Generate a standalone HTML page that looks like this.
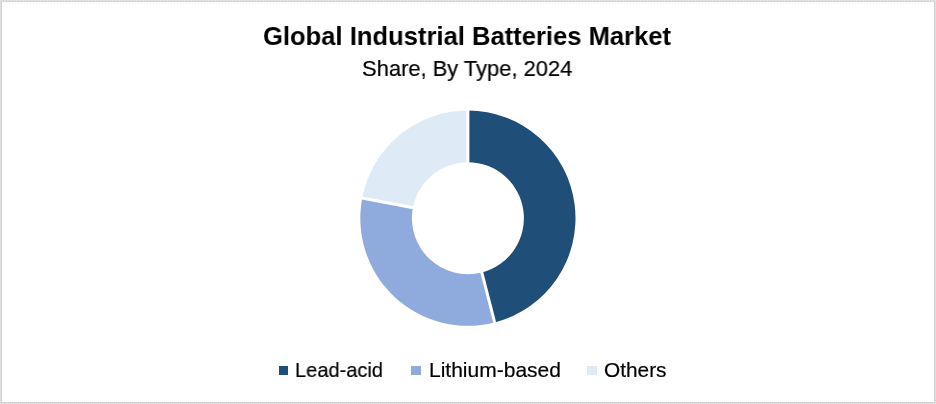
<!DOCTYPE html>
<html><head><meta charset="utf-8">
<style>
html,body{margin:0;padding:0;background:#fff;}
body{width:936px;height:404px;position:relative;overflow:hidden;font-family:"Liberation Sans",sans-serif;color:#000;}
.frame{position:absolute;left:0;top:0;width:934px;height:402px;border:1px solid #e0e0e0;}
.bt{position:absolute;left:1px;top:1px;width:934px;height:1px;background:repeating-linear-gradient(90deg,#dedede 0,#dedede 2px,#c8c8c8 2px,#c8c8c8 3px);}
.bb{position:absolute;left:1px;top:402px;width:934px;height:1px;background:repeating-linear-gradient(90deg,#dedede 0,#dedede 1px,#c8c8c8 1px,#c8c8c8 2px);}
.bl{position:absolute;left:1px;top:1px;width:1px;height:402px;background:repeating-linear-gradient(180deg,#dedede 0,#dedede 1px,#c8c8c8 1px,#c8c8c8 2px);}
.br{position:absolute;left:934px;top:1px;width:1px;height:402px;background:repeating-linear-gradient(180deg,#dedede 0,#dedede 1px,#c8c8c8 1px,#c8c8c8 2px);}
.t{position:absolute;white-space:nowrap;line-height:1;transform-origin:0 0;will-change:transform;}
#title{font-weight:bold;font-size:26.6px;left:263.1px;top:23.1px;transform:scaleX(0.962);}
#sub{-webkit-text-stroke:0.2px #000;font-size:22px;left:362px;top:57.7px;transform:scaleX(0.996);}
.lg{-webkit-text-stroke:0.2px #000;font-size:20.8px;top:360px;}
.sq{position:absolute;width:9px;height:9px;top:366px;}
svg{position:absolute;left:0;top:0;}
</style></head><body>
<div class="frame"></div><div class="bt"></div><div class="bb"></div><div class="bl"></div><div class="br"></div>
<svg width="936" height="404" viewBox="0 0 936 404">
<path d="M467.90,110.60 A107.6,107.6 0 0 1 494.66,322.42 L481.83,272.44 A56.0,56.0 0 0 0 467.90,162.20 Z" fill="#1F4E79"/>
<path d="M494.66,322.42 A107.6,107.6 0 0 1 362.19,198.13 L412.88,207.75 A56.0,56.0 0 0 0 481.83,272.44 Z" fill="#8FAADC"/>
<path d="M362.19,198.13 A107.6,107.6 0 0 1 467.90,110.60 L467.90,162.20 A56.0,56.0 0 0 0 412.88,207.75 Z" fill="#DEEBF7"/>
<line x1="467.90" y1="165.20" x2="467.90" y2="107.60" stroke="#fff" stroke-width="3.0"/>
<line x1="481.08" y1="269.53" x2="495.41" y2="325.33" stroke="#fff" stroke-width="3.0"/>
<line x1="415.83" y1="208.31" x2="359.24" y2="197.57" stroke="#fff" stroke-width="3.0"/>
</svg>
<div class="t" id="title">Global Industrial Batteries Market</div>
<div class="t" id="sub">Share, By Type, 2024</div>
<div class="sq" style="left:279px;background:#1F4E79"></div>
<div class="t lg" id="l1" style="left:295.3px;transform:scaleX(0.963)">Lead-acid</div>
<div class="sq" style="left:411px;width:10px;background:#8FAADC"></div>
<div class="t lg" id="l2" style="left:428.7px;transform:scaleX(1.010)">Lithium-based</div>
<div class="sq" style="left:587px;width:10px;background:#DEEBF7"></div>
<div class="t lg" id="l3" style="left:604.1px;transform:scaleX(1.001)">Others</div>
</body></html>
